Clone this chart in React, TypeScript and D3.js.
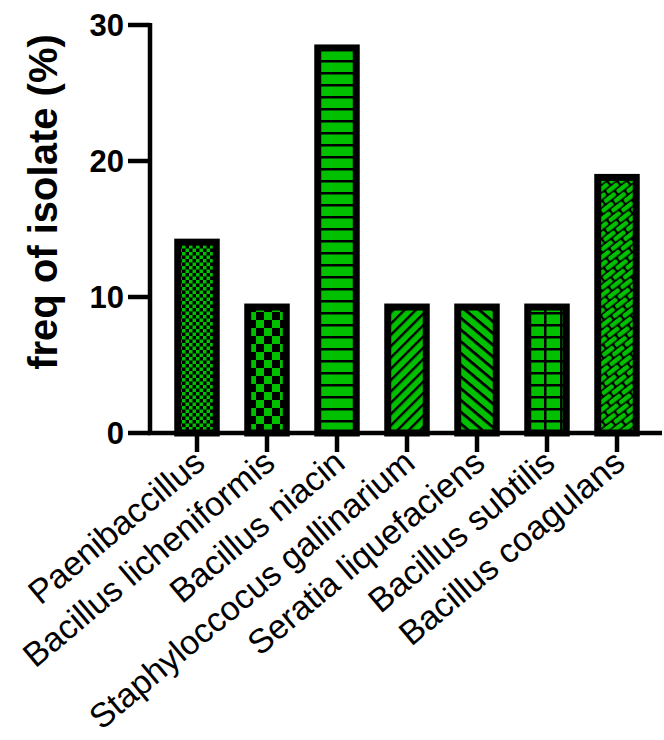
import React from 'react';
import * as d3 from 'd3';

const categories = [
  'Paenibaccillus',
  'Bacillus licheniformis',
  'Bacillus niacin',
  'Staphyloccocus gallinarium',
  'Seratia liquefaciens',
  'Bacillus subtilis',
  'Bacillus coagulans',
];
const freqValues = [14.29, 9.52, 28.57, 9.52, 9.52, 9.52, 19.05];
const yTicks = [0, 10, 20, 30];
const patternIds = ['smallCheck', 'bigCheck', 'hLines', 'diagUp', 'diagDown', 'grid', 'weave'];

const GREEN = '#00c000';

const App = () => {
  const width = 664;
  const height = 740;

  const x = d3.scaleBand<string>()
    .domain(categories)
    .range([162, 652])
    .paddingInner(0.35)
    .paddingOuter(0.175);

  const y = d3.scaleLinear().domain([0, 30]).range([433, 25]);
  const sw = 7;

  return (
    <svg width={width} height={height} style={{ display: 'block', position: 'absolute', left: 0, top: 0 }}
      fontFamily="'Liberation Sans', Arial, sans-serif">
      <defs>
        {/* small checkerboard */}
        <pattern id="smallCheck" patternUnits="userSpaceOnUse" width={7} height={7}>
          <rect width={7} height={7} fill="#000" />
          <rect x={0} y={0} width={3.5} height={3.5} fill={GREEN} />
          <rect x={3.5} y={3.5} width={3.5} height={3.5} fill={GREEN} />
        </pattern>
        {/* big checkerboard */}
        <pattern id="bigCheck" patternUnits="userSpaceOnUse" width={16} height={16}>
          <rect width={16} height={16} fill="#000" />
          <rect x={0} y={0} width={8} height={8} fill={GREEN} />
          <rect x={8} y={8} width={8} height={8} fill={GREEN} />
        </pattern>
        {/* horizontal lines */}
        <pattern id="hLines" patternUnits="userSpaceOnUse" width={12} height={12}>
          <rect width={12} height={12} fill={GREEN} />
          <rect x={0} y={0} width={12} height={2.5} fill="#000" />
        </pattern>
        {/* diagonal / */}
        <pattern id="diagUp" patternUnits="userSpaceOnUse" width={8} height={8} patternTransform="rotate(-45)">
          <rect width={8} height={8} fill={GREEN} />
          <rect x={0} y={0} width={8} height={2.4} fill="#000" />
        </pattern>
        {/* diagonal \ */}
        <pattern id="diagDown" patternUnits="userSpaceOnUse" width={9} height={9} patternTransform="rotate(40)">
          <rect width={9} height={9} fill={GREEN} />
          <rect x={0} y={0} width={9} height={2.8} fill="#000" />
        </pattern>
        {/* grid */}
        <pattern id="grid" patternUnits="userSpaceOnUse" width={16} height={12}>
          <rect width={16} height={12} fill={GREEN} />
          <rect x={0} y={0} width={16} height={2.5} fill="#000" />
          <rect x={0} y={0} width={2.5} height={12} fill="#000" />
        </pattern>
        {/* weave / bricks */}
        <pattern id="weave" patternUnits="userSpaceOnUse" width={16} height={12} patternTransform="rotate(-38)">
          <rect width={16} height={12} fill="#000" />
          <rect x={0} y={1} width={14} height={4.5} fill={GREEN} rx={1.5} />
          <rect x={8} y={7} width={14} height={4.5} fill={GREEN} rx={1.5} />
          <rect x={-8} y={7} width={14} height={4.5} fill={GREEN} rx={1.5} />
        </pattern>
      </defs>

      {/* Bars */}
      {categories.map((c, i) => (
        <rect key={c}
          x={(x(c) as number) + sw / 2}
          y={y(freqValues[i]) + sw / 2}
          width={x.bandwidth() - sw}
          height={y(0) - y(freqValues[i]) - sw / 2}
          fill={`url(#${patternIds[i]})`}
          stroke="#000" strokeWidth={sw} />
      ))}

      {/* Y axis */}
      <line x1={150} x2={150} y1={y(30) - 2} y2={y(0) + 2} stroke="#000" strokeWidth={4.5} />
      {yTicks.map(t => (
        <g key={t}>
          <line x1={128} x2={150} y1={y(t)} y2={y(t)} stroke="#000" strokeWidth={4.5} />
          <text x={124} y={y(t)} dy="0.36em" textAnchor="end" fontSize={31} fontWeight="bold">{t}</text>
        </g>
      ))}
      <text transform="translate(57,202) rotate(-90)" textAnchor="middle"
        fontSize={40} fontWeight="bold">freq of isolate (%)</text>

      {/* X axis */}
      <line x1={148} x2={662} y1={y(0)} y2={y(0)} stroke="#000" strokeWidth={4.5} />
      {categories.map(c => {
        const cx = (x(c) as number) + x.bandwidth() / 2;
        const lx = cx + 10;
        const ly = 466;
        return (
          <g key={c}>
            <line x1={cx} x2={cx} y1={y(0)} y2={452} stroke="#000" strokeWidth={4.5} />
            <text x={lx} y={ly} transform={`rotate(-40,${lx},${ly})`} textAnchor="end" fontSize={34}>{c}</text>
          </g>
        );
      })}
    </svg>
  );
};

export default App;
